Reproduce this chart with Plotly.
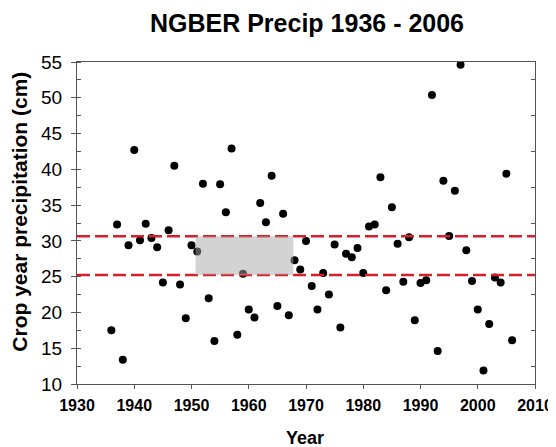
import plotly.graph_objects as go

years = list(range(1936, 2007))
precip = [
    17.5, 32.3, 13.4, 29.4, 42.7, 30.1, 32.4, 30.4, 29.1, 24.2,
    31.5, 40.5, 23.9, 19.2, 29.4, 28.5, 38.0, 22.0, 16.0, 37.9,
    34.0, 42.9, 16.9, 25.4, 20.4, 19.3, 35.3, 32.6, 39.1, 20.9,
    33.8, 19.6, 27.3, 26.0, 30.0, 23.7, 20.4, 25.5, 22.5, 29.5,
    17.9, 28.2, 27.7, 29.0, 25.5, 32.0, 32.3, 38.9, 23.1, 34.7,
    29.6, 24.3, 30.5, 18.9, 24.1, 24.5, 50.4, 14.6, 38.4, 30.7,
    37.0, 54.6, 28.7, 24.4, 20.4, 11.9, 18.4, 24.9, 24.2, 39.4,
    16.1,
]
upper_line = 30.66
lower_line = 25.25
base_start, base_end = 1950.7, 1967.8

title = "NGBER Precip 1936 - 2006"
x_title = "Year"
y_title = "Crop year precipitation (cm)"

font = "Liberation Sans, Arial, sans-serif"

# the page body has an 8px default margin, so the figure is sized to fit inside
W, H = 548, 439
ML, MR, MT, MB = 69, 21, 54, 63
PW, PH = W - ML - MR, H - MT - MB

fig = go.Figure()
fig.add_trace(go.Scatter(
    x=years, y=precip, mode="markers",
    marker=dict(color="black", size=8),
    showlegend=False, hoverinfo="x+y",
))
# empty trace to carry the right-hand mirror axis
fig.add_trace(go.Scatter(x=[], y=[], yaxis="y2", showlegend=False))

red = "rgb(212,32,42)"
for yv in (upper_line, lower_line):
    fig.add_shape(type="line", xref="paper", x0=0, x1=1, yref="y", y0=yv, y1=yv,
                  line=dict(color=red, width=2.5, dash="13px,5px"), layer="above")
fig.add_shape(type="rect", xref="x", yref="y", x0=base_start, x1=base_end,
              y0=lower_line, y1=upper_line, fillcolor="rgba(168,168,168,0.5)",
              line=dict(width=0), layer="above")

fig.add_annotation(text=f"<b>{y_title}</b>", xref="paper", yref="paper",
                   x=(12 - ML) / PW, y=(H - MB - 203.7) / PH,
                   textangle=-90, showarrow=False, xanchor="center", yanchor="middle",
                   font=dict(size=21, family=font, color="black"))
fig.add_annotation(text=f"<b>{x_title}</b>", xref="paper", yref="paper",
                   x=(297 - ML) / PW, y=-(430 - (H - MB)) / PH,
                   showarrow=False, xanchor="center", yanchor="middle",
                   font=dict(size=18, family=font, color="black"))

fig.update_layout(
    width=W, height=H,
    margin=dict(l=ML, r=MR, t=MT, b=MB, autoexpand=False),
    paper_bgcolor="white", plot_bgcolor="white",
    font=dict(family=font, color="black"),
    title=dict(text=f"<b>{title}</b>", x=299 / W, xanchor="center", y=1 - 15 / H, yanchor="middle",
               font=dict(size=25, family=font, color="black")),
    xaxis=dict(
        range=[1930, 2010], dtick=10, tick0=1930, automargin=False,
        showline=True, linecolor="#555", linewidth=1, mirror=True,
        ticks="outside", ticklen=4, tickcolor="#555",
        showgrid=False, zeroline=False, ticklabeloverflow="allow",
        ticklabelstandoff=3,
        tickfont=dict(size=16, family=font, weight="bold"),
    ),
    yaxis=dict(
        range=[10, 55], dtick=5, tick0=10, automargin=False,
        showline=True, linecolor="#555", linewidth=1,
        ticks="outside", ticklen=5, tickcolor="#555",
        minor=dict(ticks="inside", ticklen=4, dtick=2.5, tick0=10, tickcolor="#555"),
        showgrid=False, zeroline=False, ticklabelstandoff=5,
        tickfont=dict(size=19, family=font),
    ),
    yaxis2=dict(
        overlaying="y", side="right", matches="y", range=[10, 55], automargin=False,
        showline=True, linecolor="#555", linewidth=1,
        showticklabels=False, ticks="", dtick=5,
        minor=dict(ticks="inside", ticklen=4, dtick=2.5, tick0=12.5, tickcolor="#555"),
        showgrid=False, zeroline=False,
    ),
)

fig.write_html("out.html")
